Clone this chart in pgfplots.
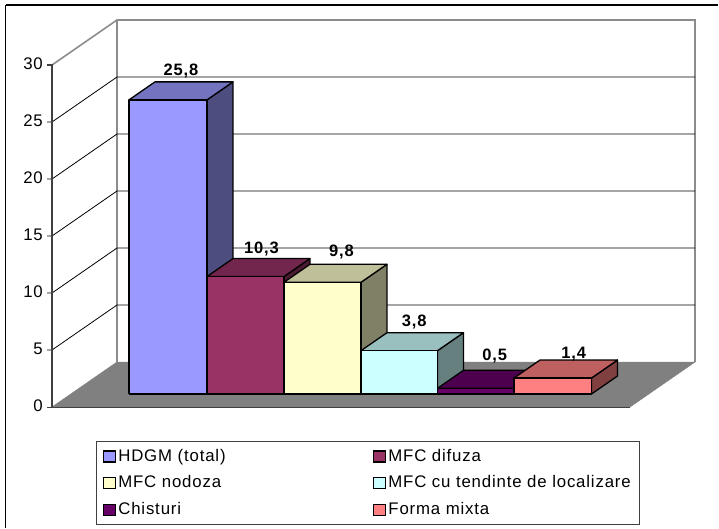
\documentclass[border=0pt]{standalone}
\usepackage{fontspec}
\setmainfont{Liberation Sans}[LetterSpace=5]
\usepackage{pgfplots}
\pgfplotsset{compat=1.18}

\definecolor{wallgray}{HTML}{8C8C8C}
\definecolor{floorgray}{HTML}{808080}
\definecolor{axisgray}{HTML}{404040}
\definecolor{fA}{HTML}{9999FF}\definecolor{tA}{HTML}{7373BF}\definecolor{sA}{HTML}{4D4D80}
\definecolor{fB}{HTML}{993366}\definecolor{tB}{HTML}{73264D}\definecolor{sB}{HTML}{4D1A33}
\definecolor{fC}{HTML}{FFFFCC}\definecolor{tC}{HTML}{BFBF99}\definecolor{sC}{HTML}{808066}
\definecolor{fD}{HTML}{CCFFFF}\definecolor{tD}{HTML}{99BFBF}\definecolor{sD}{HTML}{668080}
\definecolor{fE}{HTML}{660066}\definecolor{tE}{HTML}{4D004D}\definecolor{sE}{HTML}{330033}
\definecolor{fF}{HTML}{FF8080}\definecolor{tF}{HTML}{BF6060}\definecolor{sF}{HTML}{804040}

% One box: left edge, right edge, value, printed value, front/top/side colours,
% and the nudge of its value label.
% The box stands on the floor between depths 0.289 and 0.689.
\newcommand{\threedbar}[8]{%
  \addplot3[forget plot,fill=#7,draw=black,line width=1.3pt,line join=round] coordinates
    {(#2,0.289,0) (#2,0.689,0) (#2,0.689,#3) (#2,0.289,#3) (#2,0.289,0)};
  \addplot3[forget plot,fill=#6,draw=black,line width=1.3pt,line join=round] coordinates
    {(#1,0.289,#3) (#2,0.289,#3) (#2,0.689,#3) (#1,0.689,#3) (#1,0.289,#3)};
  \addplot3[forget plot,fill=#5,draw=black,line width=1.3pt,line join=round] coordinates
    {(#1,0.289,0) (#2,0.289,0) (#2,0.289,#3) (#1,0.289,#3) (#1,0.289,0)};
  \node[font=\fontsize{16.5}{18}\selectfont\bfseries,inner sep=0pt,yshift=20pt,#8]
    at (axis cs:{(#1+#2)/2},0.489,#3) {#4};
}
% One gridline with its tick: tick, side wall, back wall.
\newcommand{\gridrow}[1]{%
  \addplot3[forget plot,black,line width=0.8pt] coordinates {(47,0,#1) (52,0,#1) (52,1,#1) (630,1,#1)};
}

\begin{document}
\begin{tikzpicture}[x=1pt,y=1pt]
\path[use as bounding box] (0,0) rectangle (719,528);
\begin{axis}[
  at={(52pt,121pt)},anchor=origin,
  disabledatascaling,
  x={(1pt,0pt)},y={(65pt,45pt)},z={(0pt,11.4pt)},
  xmin=52,xmax=630,ymin=0,ymax=1,zmin=0,zmax=30,
  clip=false,
  axis x line=none,axis y line=none,axis z line=left,
  axis line style={axisgray,line width=1pt,-},
  xtick=\empty,ytick=\empty,
  ztick={0,5,10,15,20,25,30},
  major tick length=0pt,
  /pgf/number format/assume math mode=true,
  tick label style={font=\fontsize{16.8}{18}\selectfont,anchor=east,xshift=-9pt,yshift=1pt,inner sep=0pt},
  legend columns=2,
  legend cell align=left,
  legend style={
    at={(axis cs:52,0,-2.95)},anchor=north west,xshift=43.7pt,
    draw=axisgray,line width=1pt,
    font=\fontsize{16.8}{18}\selectfont,
    inner xsep=7pt,inner ysep=6pt,
    /tikz/every even column/.style={column sep=3pt},
    /tikz/row sep=9pt,
  },
  legend image code/.code={
    \draw[#1,draw=black,line width=1.1pt] (0pt,-6pt) rectangle (12pt,5pt);
  },
]
% floor
\addplot3[forget plot,fill=floorgray,draw=floorgray,line width=0.5pt] coordinates
  {(52,0,0) (630,0,0) (630,1,0) (52,1,0) (52,0,0)};
\addplot3[forget plot,axisgray,line width=1pt] coordinates {(47,0,0) (630,0,0)};
% walls
\addplot3[forget plot,wallgray,line width=1.6pt] coordinates {(52,0,30) (52,1,30) (630,1,30) (630,1,0)};
\addplot3[forget plot,wallgray,line width=1.6pt] coordinates {(52,1,0) (52,1,30)};
\gridrow{5}\gridrow{10}\gridrow{15}\gridrow{20}\gridrow{25}
% value axis with its top tick
\addplot3[forget plot,axisgray,line width=1.2pt] coordinates {(47,0,30) (52,0,30) (52,0,0)};
% legend keys
\addlegendimage{fill=fA}\addlegendentry{\makebox[250pt][l]{HDGM (total)}}
\addlegendimage{fill=fB}\addlegendentry{MFC difuza}
\addlegendimage{fill=fC}\addlegendentry{MFC nodoza}
\addlegendimage{fill=fD}\addlegendentry{MFC cu tendinte de localizare}
\addlegendimage{fill=fE}\addlegendentry{Chisturi}
\addlegendimage{fill=fF}\addlegendentry{Forma mixta}
% boxes
\threedbar{110.2}{188.2}{25.8}{25,8}{fA}{tA}{sA}{}
\threedbar{188.2}{265.2}{10.3}{10,3}{fB}{tB}{sB}{xshift=3pt,yshift=-1pt}
\threedbar{265.2}{342.2}{9.8}{9,8}{fC}{tC}{sC}{xshift=6pt,yshift=1pt}
\threedbar{342.2}{418.7}{3.8}{3,8}{fD}{tD}{sD}{xshift=2pt}
\threedbar{418.7}{495.2}{0.5}{0,5}{fE}{tE}{sE}{xshift=6pt,yshift=3pt}
\threedbar{495.2}{572.7}{1.4}{1,4}{fF}{tF}{sF}{xshift=8pt,yshift=-5pt}
\end{axis}
% outer chart border: only the top and the left edge are drawn
\draw[black,line width=1.6pt] (718,523) -- (5.5,523);
\draw[black,line width=1.6pt] (5.5,523) -- (5.5,0);
\end{tikzpicture}
\end{document}
